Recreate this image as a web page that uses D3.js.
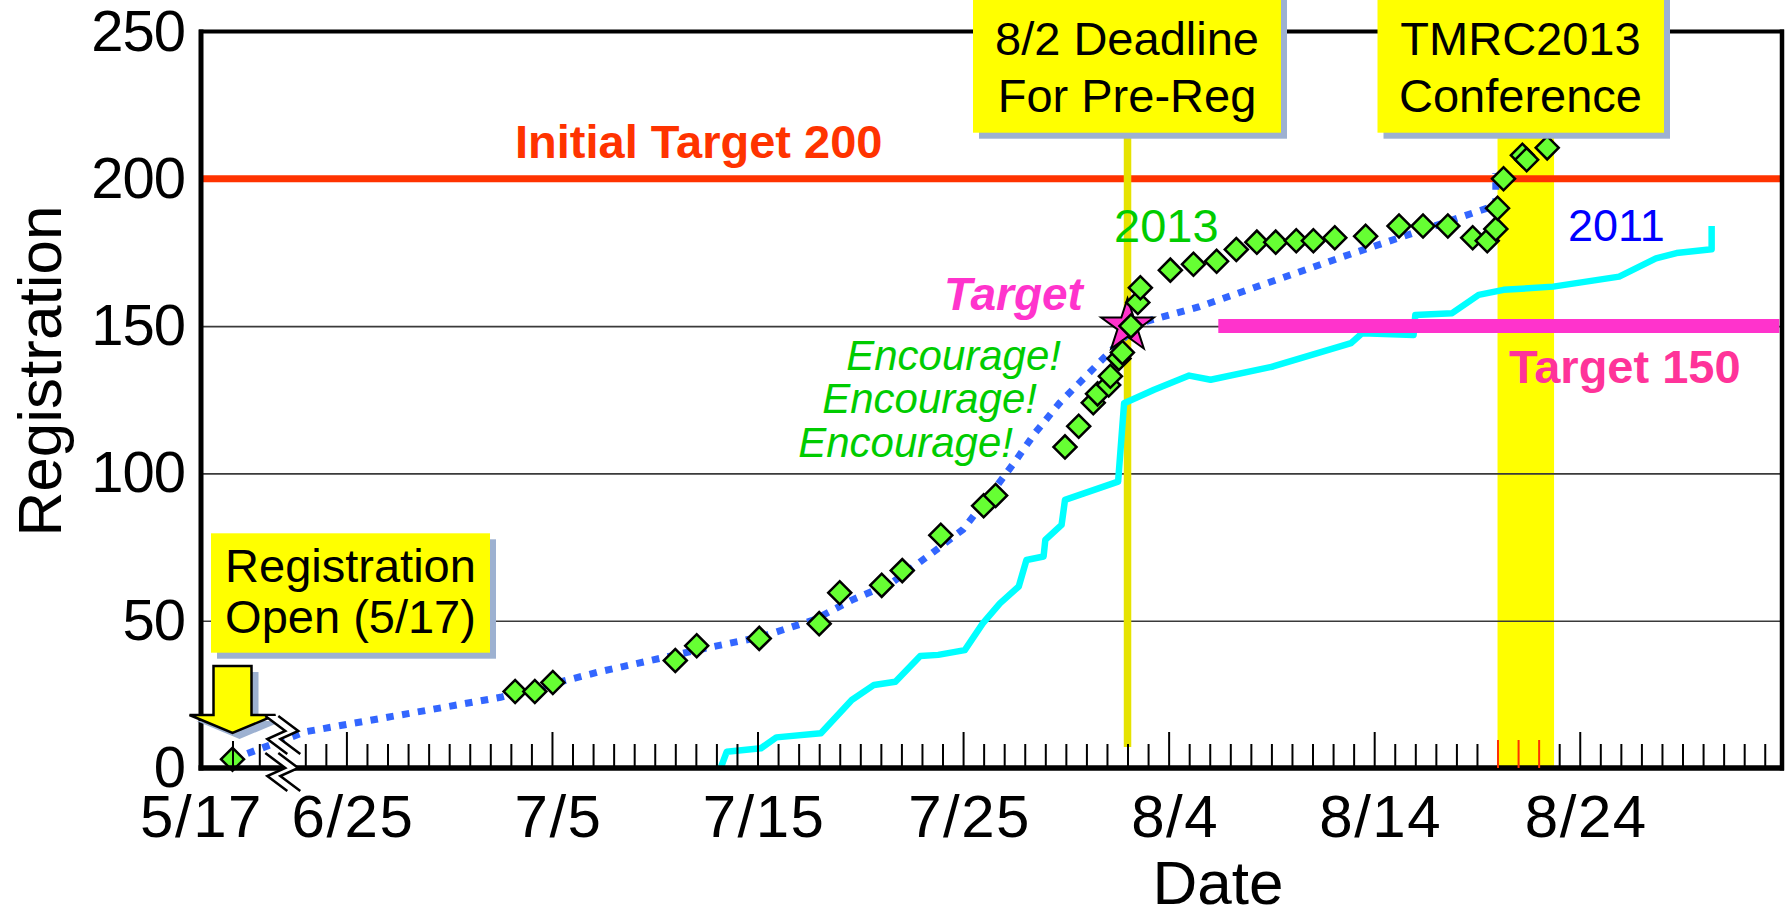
<!DOCTYPE html>
<html><head><meta charset="utf-8">
<script src="https://cdn.jsdelivr.net/npm/d3@7"></script>
<style>
html,body{margin:0;padding:0;background:#fff;}
svg{display:block;}
text{font-family:"Liberation Sans", Arial, sans-serif;}
</style></head><body>
<svg id="chart" width="1790" height="910"></svg>
<script>
// ---------------- DATA ----------------
const dates2013 = ["05-17 00","07-03 05","07-04 04","07-05 01","07-11 00","07-12 01","07-15 02","07-18 00","07-19 00","07-21 01","07-22 01","07-23 22","07-26 00","07-26 14","07-29 23","07-30 15","07-31 08","07-31 13","08-01 02","08-01 04","08-01 14","08-01 18","08-02 04","08-02 12","08-02 15","08-04 02","08-05 05","08-06 08","08-07 07","08-08 07","08-09 05","08-10 05","08-11 01","08-12 02","08-13 14","08-15 05","08-16 09","08-17 14","08-18 19","08-19 12","08-19 22","08-20 00","08-20 07","08-21 05","08-21 10","08-22 10"];
const regs2013  = [3,26,26,29,36.5,41.5,44,49,59.5,62,67,79,89,92.5,109,116,124,127,130,133,139,141,150,158,163,169,171,172,176,178.5,178.5,179,179,180,180.5,184,184,184,180,179,183,190,200,208,206.5,210.5];

const datesPlan = ["05-17 00","06-23 00","07-02 12","07-07 08","07-12 17","07-15 04","07-17 18","07-19 14","07-21 12","07-23 12","07-25 00","07-26 12","07-27 14","07-28 12","07-29 17","07-30 19","07-31 22","08-01 22","08-02 02","08-05 12","08-12 12","08-19 22","08-19 22"];
const regsPlan  = [3,12.3,24,32.7,41,44.5,50.3,57,62.7,73,81,94.4,104.6,113.7,124,131.7,139.7,146.5,150,156.6,173.6,191,202];

const dates2011 = ["07-13 05","07-13 12","07-15 04","07-15 22","07-18 02","07-19 14","07-20 16","07-21 17","07-22 22","07-23 19","07-25 02","07-25 23","07-26 19","07-27 17","07-28 02","07-28 22","07-29 00","07-29 19","07-29 23","08-01 13","08-01 20","08-03 07","08-05 00","08-06 01","08-09 02","08-12 21","08-13 10","08-15 22","08-16 00","08-17 19","08-19 02","08-20 07","08-22 17","08-25 22","08-27 17","08-28 17","08-30 10","08-30 10"];
const regs2011  = [0,5.5,6.7,10.4,11.8,23.1,28.2,29.3,38,38.4,40,49.1,55.9,61.6,70.6,71.8,77.4,82.5,91,97.2,123.8,128.4,133.2,131.8,136.3,144.2,147.6,147,153.8,154.4,160.6,162.3,163.4,166.8,173,174.8,176.1,184];

const yTicks = [0,50,100,150,200,250];
const gridValues = [50,100,150];
const majorTickDates = ["06-25 00","07-05 00","07-15 00","07-25 00","08-04 00","08-14 00","08-24 00"];
const majorTickLabels = ["6/25","7/5","7/15","7/25","8/4","8/14","8/24"];
const openDate = "05-17 00", openLabel = "5/17";
const earlyMinorDates = ["05-18 00"];
const confTickDates = ["08-20 00","08-21 00","08-22 00"];

const initialTarget = 200;
const targetValue = 150, targetStart = "08-06 10", targetEnd = "09-02 17";
const starDate = "08-02 00", starValue = 150;
const deadlineDate = "08-02 00";
const confStart = "08-20 00", confEnd = "08-22 18";

// ---------------- SETUP ----------------
const P = s => d3.timeParse("%Y-%m-%d %H")("2013-" + s);
const svg = d3.select("#chart");
const L = 201, T = 31.5, R = 1782, B = 768;

const x = d3.scaleTime()
  .domain([P("05-17 00"), P("05-18 00"), P("06-23 00"), P("09-03 00")])
  .range([232.5, 259.3, 305.3, 1785.3]);
const y = d3.scaleLinear().domain([0, 250]).range([B, T]);

const YELLOW = "#FFFF00", SHADOW = "#9DB1D1";

// conference band
svg.append("rect")
  .attr("x", x(P(confStart))).attr("y", 120)
  .attr("width", x(P(confEnd)) - x(P(confStart))).attr("height", B - 120)
  .attr("fill", YELLOW);

// gridlines
const grid = svg.append("g").attr("transform", `translate(${L},0)`)
  .call(d3.axisLeft(y).tickValues(gridValues).tickSize(-(R - L)).tickFormat(""));
grid.select(".domain").remove();
grid.selectAll("line").attr("stroke", "#3a3a3a").attr("stroke-width", 1.6);

// initial target line
svg.append("line").attr("x1", L).attr("x2", R)
  .attr("y1", y(initialTarget)).attr("y2", y(initialTarget))
  .attr("stroke", "#FF3300").attr("stroke-width", 7);

// deadline line
svg.append("line").attr("x1", x(P(deadlineDate))).attr("x2", x(P(deadlineDate)))
  .attr("y1", 130).attr("y2", 747)
  .attr("stroke", "#E6E300").attr("stroke-width", 7.5);

// 2011 line
const line = d3.line().x(d => x(d[0])).y(d => y(d[1]));
svg.append("path")
  .datum(dates2011.map((d, i) => [P(d), regs2011[i]]))
  .attr("d", line).attr("fill", "none")
  .attr("stroke", "#00FFFF").attr("stroke-width", 6.5).attr("stroke-linejoin", "round");

// target 150 line
svg.append("line").attr("x1", x(P(targetStart))).attr("x2", x(P(targetEnd)))
  .attr("y1", y(targetValue)).attr("y2", y(targetValue))
  .attr("stroke", "#FF33CC").attr("stroke-width", 14);

// plan dotted line
svg.append("path")
  .datum(datesPlan.map((d, i) => [P(d), regsPlan[i]]))
  .attr("d", line).attr("fill", "none")
  .attr("stroke", "#3366FF").attr("stroke-width", 7).attr("stroke-dasharray", "7.5,8.5");

// star
svg.append("path")
  .attr("d", d3.symbol(d3.symbolStar).size(860)())
  .attr("transform", `translate(${x(P(starDate))},${y(starValue)})`)
  .attr("fill", "#FF33CC").attr("stroke", "#000").attr("stroke-width", 2);

// 2013 diamonds
svg.append("g").selectAll("path")
  .data(dates2013.map((d, i) => [P(d), regs2013[i]]))
  .join("path")
  .attr("d", d3.symbol(d3.symbolSquare).size(265)())
  .attr("transform", d => `translate(${x(d[0])},${y(d[1])}) rotate(45)`)
  .attr("fill", "#66FF33").attr("stroke", "#000").attr("stroke-width", 2.5);

// annotation texts
function txt(t, xx, yy, size, color, opts = {}) {
  return svg.append("text").attr("x", xx).attr("y", yy)
    .attr("font-size", size).attr("fill", color)
    .attr("font-weight", opts.weight || "normal")
    .attr("font-style", opts.style || "normal")
    .attr("text-anchor", opts.anchor || "start").text(t);
}
txt("Initial Target 200", 515, 158, 47, "#FF3300", {weight: "bold"});
txt("Target 150", 1509, 383, 47, "#FF3399", {weight: "bold"});
txt("Target", 944, 310, 46, "#FF33CC", {weight: "bold", style: "italic"});
txt("2013", 1114, 242, 47, "#00CC00");
txt("2011", 1568, 241, 45, "#0000FF");
txt("Encourage!", 1061, 370, 42, "#00CC00", {style: "italic", anchor: "end"});
txt("Encourage!", 1037, 413, 42, "#00CC00", {style: "italic", anchor: "end"});
txt("Encourage!", 1013, 457, 42, "#00CC00", {style: "italic", anchor: "end"});

// frame
svg.append("line").attr("x1", L).attr("x2", L).attr("y1", T - 2).attr("y2", B + 2.5).attr("stroke", "#000").attr("stroke-width", 5);
svg.append("line").attr("x1", L - 2).attr("x2", R + 2).attr("y1", T).attr("y2", T).attr("stroke", "#000").attr("stroke-width", 4);
svg.append("line").attr("x1", R).attr("x2", R).attr("y1", T - 2).attr("y2", B + 2.5).attr("stroke", "#000").attr("stroke-width", 4.5);
svg.append("line").attr("x1", L - 2.5).attr("x2", R + 2).attr("y1", B).attr("y2", B).attr("stroke", "#000").attr("stroke-width", 5.5);

// minor ticks
const majorSet = new Set(majorTickDates);
const confSet = new Set(confTickDates);
const minorDates = earlyMinorDates.map(P).concat(
  d3.timeDay.range(P("06-23 00"), P("09-03 00"))
    .filter(d => !majorSet.has(d3.timeFormat("%m-%d %H")(d)) && !confSet.has(d3.timeFormat("%m-%d %H")(d))));
const gMinor = svg.append("g").attr("transform", `translate(0,${B})`)
  .call(d3.axisBottom(x).tickValues(minorDates).tickSize(-24).tickFormat(""));
gMinor.select(".domain").remove();
gMinor.selectAll("line").attr("stroke", "#000").attr("stroke-width", 2);

const gConf = svg.append("g").attr("transform", `translate(0,${B})`)
  .call(d3.axisBottom(x).tickValues(confTickDates.map(P)).tickSize(-28).tickFormat(""));
gConf.select(".domain").remove();
gConf.selectAll("line").attr("stroke", "#FF3300").attr("stroke-width", 2);

// major ticks with labels
const gMajor = svg.append("g").attr("transform", `translate(0,${B})`)
  .call(d3.axisBottom(x).tickValues(majorTickDates.map(P)).tickSize(-36).tickPadding(26)
    .tickFormat((d, i) => majorTickLabels[i]));
gMajor.select(".domain").remove();
gMajor.selectAll("line").attr("stroke", "#000").attr("stroke-width", 2);
gMajor.selectAll("text").attr("font-size", 60).attr("fill", "#000")
  .attr("font-family", "Liberation Sans, Arial, sans-serif").attr("dx", 6).attr("letter-spacing", 1.5);

const gOpen = svg.append("g").attr("transform", `translate(0,${B})`)
  .call(d3.axisBottom(x).tickValues([P(openDate)]).tickSize(-27).tickPadding(26).tickFormat(() => openLabel));
gOpen.select(".domain").remove();
gOpen.selectAll("line").attr("stroke", "#000").attr("stroke-width", 2);
gOpen.selectAll("text").attr("font-size", 60).attr("fill", "#000")
  .attr("font-family", "Liberation Sans, Arial, sans-serif").attr("dx", -31.5).attr("letter-spacing", 1.5);

// y axis labels
const gY = svg.append("g").attr("transform", `translate(${L},0)`)
  .call(d3.axisLeft(y).tickValues(yTicks).tickSize(0).tickPadding(16));
gY.select(".domain").remove();
gY.selectAll("text").attr("font-size", 58).attr("fill", "#000")
  .attr("font-family", "Liberation Sans, Arial, sans-serif").attr("letter-spacing", -1);

// axis titles
svg.append("text").attr("transform", "translate(61,371) rotate(-90)")
  .attr("text-anchor", "middle").attr("font-size", 62).attr("fill", "#000").text("Registration");
svg.append("text").attr("x", 1218).attr("y", 904)
  .attr("text-anchor", "middle").attr("font-size", 62).attr("fill", "#000").text("Date");

// boxes
function box(x0, y0, x1, y1, lines, baselines, cx) {
  svg.append("rect").attr("x", x0 + 6).attr("y", y0 + 6).attr("width", x1 - x0).attr("height", y1 - y0).attr("fill", SHADOW);
  svg.append("rect").attr("x", x0).attr("y", y0).attr("width", x1 - x0).attr("height", y1 - y0).attr("fill", YELLOW);
  lines.forEach((t, i) => {
    svg.append("text").attr("x", cx).attr("y", baselines[i]).attr("text-anchor", "middle")
      .attr("font-size", 47).attr("fill", "#000").text(t);
  });
}
box(973, -10, 1281, 132.7, ["8/2 Deadline", "For Pre-Reg"], [55, 111.7], 1127);
box(1377.5, -10, 1664, 132.7, ["TMRC2013", "Conference"], [55, 111.7], 1520.5);
box(211, 533.3, 490, 652.7, ["Registration", "Open (5/17)"], [581.7, 633], 350.5);

// arrow
const cx = x(P(openDate));
const arrowPath = `M${cx - 19},666 L${cx + 19},666 L${cx + 19},715 L${cx + 43},715 L${cx},733 L${cx - 43},715 L${cx - 19},715 Z`;
svg.append("path").attr("d", arrowPath).attr("fill", SHADOW).attr("transform", "translate(7,6)");
svg.append("path").attr("d", arrowPath).attr("fill", YELLOW).attr("stroke", "#000").attr("stroke-width", 2.5).attr("stroke-linejoin", "miter");

// break marks
function breakMark(bx, by) {
  const a = [[-11, -19], [9, -4], [-9, 4], [11, 19]].map(p => [bx + p[0] - 6, by + p[1]]);
  const b = a.map(p => [p[0] + 13, p[1]]);
  svg.append("path").attr("d", d3.line()(a.concat(b.slice().reverse())) + "Z").attr("fill", "#fff");
  svg.append("path").attr("d", d3.line()(a)).attr("fill", "none").attr("stroke", "#000").attr("stroke-width", 2.5);
  svg.append("path").attr("d", d3.line()(b)).attr("fill", "none").attr("stroke", "#000").attr("stroke-width", 2.5);
}
const bx = (x(P("05-18 00")) + x(P("06-23 00"))) / 2;
breakMark(bx, 735);
breakMark(bx, 772);
</script>
</body></html>
